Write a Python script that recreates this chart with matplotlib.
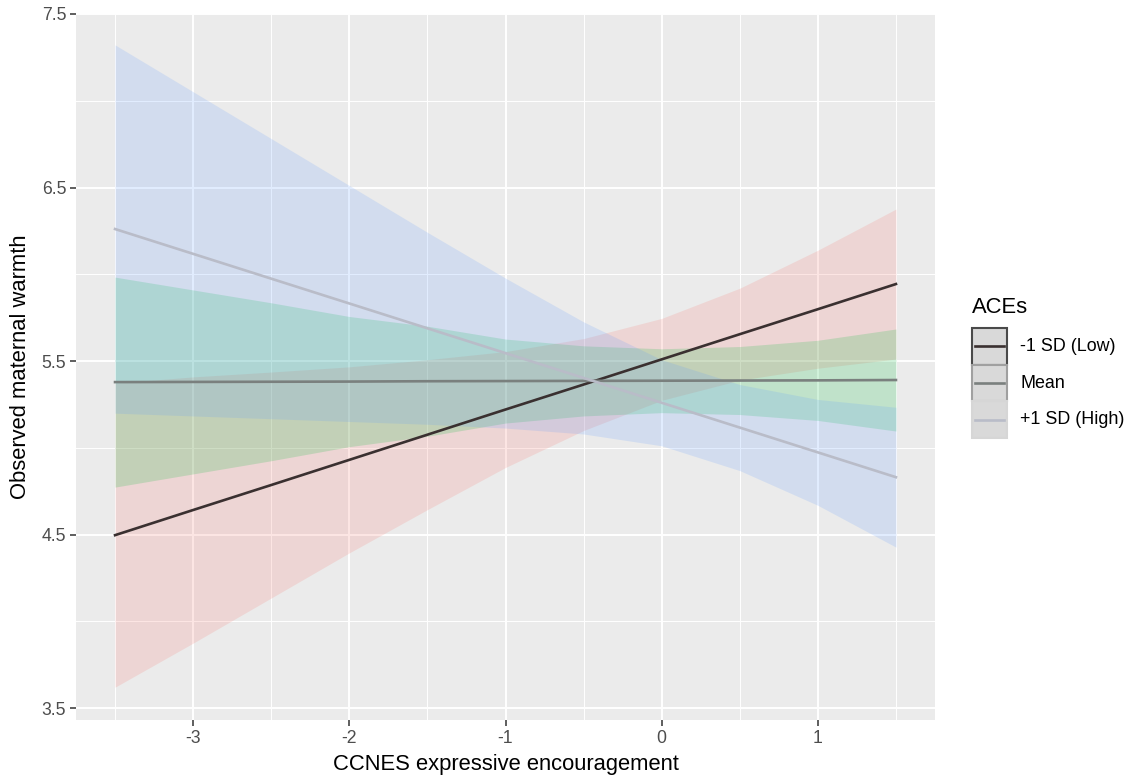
import matplotlib.pyplot as plt
from matplotlib.patches import Rectangle
from matplotlib.lines import Line2D
from matplotlib.ticker import MultipleLocator

plt.rcParams['font.family'] = ['Liberation Sans', 'DejaVu Sans']
plt.rcParams['axes.unicode_minus'] = False

# x values (CCNES expressive encouragement)
x = [-3.5, -3.0, -2.5, -2.0, -1.5, -1.0, -0.5, 0.0, 0.5, 1.0, 1.5]

# -1 SD (Low)
low_fit = [4.497, 4.642, 4.786, 4.931, 5.076, 5.221, 5.365, 5.510, 5.655, 5.799, 5.944]
low_lo = [3.621, 3.875, 4.135, 4.395, 4.644, 4.887, 5.100, 5.274, 5.390, 5.459, 5.512]
low_hi = [5.373, 5.409, 5.437, 5.467, 5.508, 5.555, 5.630, 5.746, 5.920, 6.139, 6.376]

# Mean
mean_fit = [5.379, 5.380, 5.381, 5.382, 5.384, 5.385, 5.386, 5.387, 5.388, 5.389, 5.391]
mean_lo = [4.774, 4.850, 4.926, 5.007, 5.067, 5.143, 5.184, 5.203, 5.192, 5.158, 5.097]
mean_hi = [5.984, 5.910, 5.836, 5.757, 5.701, 5.627, 5.588, 5.571, 5.584, 5.620, 5.685]

# +1 SD (High)
high_fit = [6.261, 6.118, 5.975, 5.832, 5.689, 5.546, 5.403, 5.260, 5.117, 4.974, 4.831]
high_lo = [5.200, 5.184, 5.168, 5.152, 5.136, 5.114, 5.080, 5.012, 4.869, 4.669, 4.428]
high_hi = [7.322, 7.052, 6.782, 6.512, 6.242, 5.978, 5.726, 5.508, 5.365, 5.279, 5.234]

labels = ['-1 SD (Low)', 'Mean', '+1 SD (High)']
fits = [low_fit, mean_fit, high_fit]
los = [low_lo, mean_lo, high_lo]
his = [low_hi, mean_hi, high_hi]
fill_colors = ['#F8766D', '#00BA38', '#619CFF']
line_colors = ['#3a3030', '#7a807e', '#b9bcc8']
key_edges = ['#4a4a4a', '#a0a0a0', '#d6d6d6']

W, H = 1135, 781
fig = plt.figure(figsize=(W / 100, H / 100), dpi=100)
ax = fig.add_axes([76 / W, 61 / H, 859 / W, 706 / H])
ax.set_facecolor('#EBEBEB')

for lo, hi, fc in zip(los, his, fill_colors):
    ax.fill_between(x, lo, hi, color=fc, alpha=0.18, linewidth=0, zorder=2)
for fit, lc in zip(fits, line_colors):
    ax.plot(x, fit, color=lc, linewidth=1.9, zorder=3)

ax.set_xlim(-3.75, 1.75)
ax.set_ylim(3.432, 7.5)
ax.xaxis.set_major_locator(MultipleLocator(1))
ax.xaxis.set_minor_locator(MultipleLocator(0.5))
ax.set_yticks([3.5, 4.5, 5.5, 6.5, 7.5])
ax.set_yticks([4.0, 5.0, 6.0, 7.0], minor=True)

ax.grid(which='major', color='white', linewidth=1.4, zorder=1)
ax.grid(which='minor', color='white', linewidth=0.7, zorder=1)
ax.set_axisbelow(True)
for s in ax.spines.values():
    s.set_visible(False)

ax.tick_params(which='major', length=4, width=1.1, color='#333333',
               labelcolor='#4D4D4D', labelsize=12.7, pad=3)
ax.tick_params(which='minor', length=0)

ax.set_xlabel('CCNES expressive encouragement', fontsize=15.8, labelpad=5)
ax.set_ylabel('Observed maternal warmth', fontsize=15.8, labelpad=8)

# legend drawn by hand, ggplot style keys
fig.text(972 / W, 1 - 308 / H, 'ACEs', fontsize=15.8, ha='left', va='center')
key_w, key_h = 35, 36.7
for i, (lab, lc, ec) in enumerate(zip(labels, line_colors, key_edges)):
    top = 328 + i * key_h
    fig.add_artist(Rectangle((972 / W, 1 - (top + key_h) / H), key_w / W, key_h / H,
                             transform=fig.transFigure, facecolor='#d9d9d9',
                             edgecolor=ec, linewidth=1.5))
    yc = 1 - (top + key_h / 2) / H
    fig.add_artist(Line2D([(972 + 3) / W, (972 + key_w - 3) / W], [yc, yc],
                          transform=fig.transFigure, color=lc, linewidth=1.9))
    fig.text(1020 / W, yc, lab, fontsize=12.9, ha='left', va='center')

plt.savefig('out.png', dpi=100)
